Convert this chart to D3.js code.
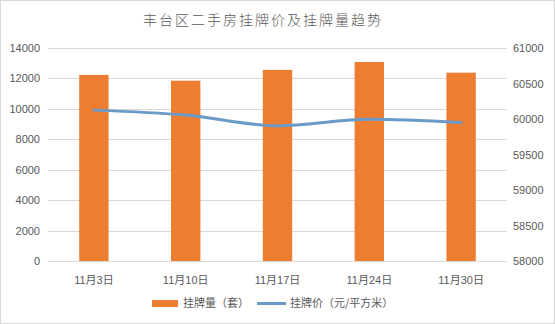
<!DOCTYPE html>
<html>
<head>
<meta charset="utf-8">
<script src="https://cdn.jsdelivr.net/npm/d3@7"></script>
<style>
  html, body { margin: 0; padding: 0; background: #fff; }
  svg { display: block; font-family: "Noto Sans CJK SC", "Liberation Sans", sans-serif; }
</style>
</head>
<body>
<svg id="chart" width="555" height="324"></svg>
<script>
/* ======================= DATA ========================== */
const categories = ["11月3日", "11月10日", "11月17日", "11月24日", "11月30日"];
const listingCount = [12230, 11850, 12560, 13080, 12380];   // 挂牌量（套）
const listingPrice = [60125, 60055, 59905, 59995, 59950];   // 挂牌价（元/平方米）
const leftTicks = [0, 2000, 4000, 6000, 8000, 10000, 12000, 14000];
const rightTicks = [58000, 58500, 59000, 59500, 60000, 60500, 61000];
const titleText = "丰台区二手房挂牌价及挂牌量趋势";
const seriesNames = ["挂牌量（套）", "挂牌价（元/平方米）"];

/* ====================== LAYOUT ========================= */
const margin = { top: 48, right: 48, bottom: 63, left: 48 };
const width = 555, height = 324;
const svg = d3.select("#chart");

svg.append("rect")
   .attr("x", 0.5).attr("y", 0.5)
   .attr("width", width - 1).attr("height", height - 1)
   .attr("fill", "#fff").attr("stroke", "#d9d9d9");

const x = d3.scaleBand()
            .domain(categories)
            .range([margin.left, width - margin.right])
            .padding(0);
const yLeft = d3.scaleLinear()
                .domain([0, 14000])
                .range([height - margin.bottom, margin.top]);
const yRight = d3.scaleLinear()
                 .domain([58000, 61000])
                 .range([height - margin.bottom, margin.top]);

/* ====================== GRID =========================== */
svg.append("g")
   .selectAll("line")
   .data(leftTicks)
   .join("line")
   .attr("x1", margin.left)
   .attr("x2", width - margin.right)
   .attr("y1", d => Math.round(yLeft(d)) + 0.5)
   .attr("y2", d => Math.round(yLeft(d)) + 0.5)
   .attr("stroke", "#d9d9d9");

/* ====================== AXES =========================== */
const plain = d3.format("d");
const axisLeft = svg.append("g")
   .attr("transform", `translate(${margin.left - 6},0)`)
   .call(d3.axisLeft(yLeft).tickValues(leftTicks).tickFormat(plain).tickSize(0).tickPadding(2));
const axisRight = svg.append("g")
   .attr("transform", `translate(${width - margin.right + 6},0)`)
   .call(d3.axisRight(yRight).tickValues(rightTicks).tickFormat(plain).tickSize(0).tickPadding(0));
const axisBottom = svg.append("g")
   .attr("transform", `translate(0,${height - margin.bottom + 15})`)
   .call(d3.axisBottom(x).tickSize(0).tickPadding(0));

[axisLeft, axisRight, axisBottom].forEach(g => {
    g.select(".domain").remove();
    g.selectAll("text")
     .attr("fill", "#595959")
     .style("font-size", "11px")
     .style("font-family", "'Liberation Sans', 'Noto Sans CJK SC', sans-serif");
});

/* ====================== BARS =========================== */
const barW = x.bandwidth() * 0.32;
svg.append("g")
   .selectAll("rect")
   .data(listingCount)
   .join("rect")
   .attr("x", (d, i) => x(categories[i]) + x.bandwidth() / 2 - barW / 2)
   .attr("y", d => yLeft(d))
   .attr("width", barW)
   .attr("height", d => yLeft(0) - yLeft(d))
   .attr("fill", "#ed7d31");

/* ====================== LINE =========================== */
const line = d3.line()
               .x((d, i) => x(categories[i]) + x.bandwidth() / 2)
               .y(d => yRight(d))
               .curve(d3.curveMonotoneX);
svg.append("path")
   .datum(listingPrice)
   .attr("d", line)
   .attr("fill", "none")
   .attr("stroke", "#6a9bc8")
   .attr("stroke-width", 3)
   .attr("stroke-linecap", "round");

/* ====================== TITLE ========================== */
svg.append("text")
   .attr("x", 263)
   .attr("y", 25)
   .attr("text-anchor", "middle")
   .attr("fill", "#595959")
   .style("font-size", "14px")
   .style("font-weight", "300")
   .style("letter-spacing", "2px")
   .text(titleText);

/* ====================== LEGEND ========================= */
const legend = svg.append("g").attr("transform", "translate(152,303)");
legend.append("rect")
      .attr("x", 0).attr("y", -3)
      .attr("width", 26).attr("height", 7)
      .attr("fill", "#ed7d31");
legend.append("text")
      .attr("x", 31).attr("y", 4)
      .attr("fill", "#595959")
      .style("font-size", "11px")
      .text(seriesNames[0]);
legend.append("line")
      .attr("x1", 105).attr("x2", 134)
      .attr("y1", 0.5).attr("y2", 0.5)
      .attr("stroke", "#6a9bc8")
      .attr("stroke-width", 3);
legend.append("text")
      .attr("x", 138).attr("y", 4)
      .attr("fill", "#595959")
      .style("font-size", "11px")
      .text(seriesNames[1]);
</script>
</body>
</html>
